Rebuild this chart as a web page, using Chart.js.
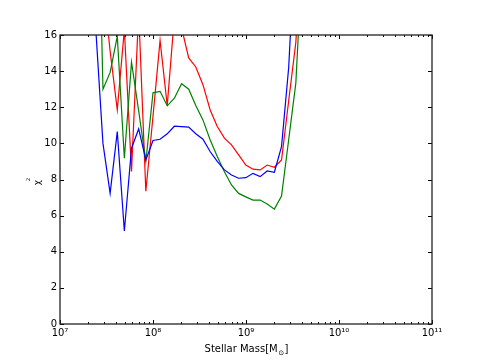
<!DOCTYPE html>
<html><head><meta charset="utf-8">
<script src="https://cdn.jsdelivr.net/npm/chart.js@4"></script>
<style>html,body{margin:0;padding:0;background:#fff}canvas{display:block}</style>
</head><body>
<canvas id="c" width="480" height="360"></canvas>
<script>
// log10 of stellar mass for each sample
const logMass = [7.232, 7.308, 7.385, 7.462, 7.539, 7.616, 7.692, 7.769, 7.846, 7.923,
                 8.000, 8.076, 8.153, 8.230, 8.307, 8.384, 8.460, 8.537, 8.614, 8.691,
                 8.768, 8.844, 8.921, 8.998, 9.075, 9.152, 9.228, 9.305, 9.382, 9.459,
                 9.536, 9.612];
const chi2Blue  = [null, 22, 16.3, 10.0, 7.23, 10.65, 5.15, 9.73, 10.8, 9.08,
                   10.16, 10.23, 10.53, 10.95, 10.93, 10.9, 10.53, 10.23, 9.55, 9.0,
                   8.53, 8.25, 8.07, 8.1, 8.34, 8.16, 8.47, 8.4, 9.82, 14.2,
                   22, null];
const chi2Green = [null, null, 30, 13.0, 13.93, 15.93, 9.18, 14.5, 11.8, 9.0,
                   12.8, 12.88, 12.08, 12.5, 13.3, 13.0, 12.1, 11.3, 10.2, 9.27,
                   8.43, 7.7, 7.23, 7.04, 6.86, 6.86, 6.64, 6.36, 7.08, 10.2,
                   13.35, 21];
const chi2Red   = [null, null, null, 19, 15.1, 11.86, 16.3, 8.45, 17.3, 7.35,
                   11.5, 15.7, 12.1, 17, 16.4, 14.73, 14.23, 13.25, 11.86, 10.93,
                   10.29, 9.92, 9.36, 8.8, 8.57, 8.53, 8.8, 8.68, 9.08, 12.36,
                   15.6, 22];
const xTickExps = [7, 8, 9, 10, 11];
const yTicks = [0, 2, 4, 6, 8, 10, 12, 14, 16];
const xLabelMain = 'Stellar Mass[M';
const xLabelSub = '\u2299';
const xLabelEnd = ']';
const yLabelMain = '\u03c7';
const yLabelSup = '2';

const SUP = {'0':'\u2070','1':'\u00b9','2':'\u00b2','3':'\u00b3','4':'\u2074','5':'\u2075','6':'\u2076','7':'\u2077','8':'\u2078','9':'\u2079'};
const supStr = n => String(n).split('').map(c => SUP[c]).join('');
const FONT = '"DejaVu Sans", sans-serif';

function series(vals) {
  return logMass.map((l, i) => ({x: Math.pow(10, l), y: vals[i]}));
}

const framePlugin = {
  id: 'frame',
  afterDraw(chart) {
    const {ctx, chartArea: a, scales: {x, y}} = chart;
    ctx.save();
    ctx.strokeStyle = '#000';
    ctx.lineWidth = 1;
    ctx.beginPath();
    const vtick = (val, len) => {
      const px = Math.round(x.getPixelForValue(val)) + 0.5;
      ctx.moveTo(px, a.bottom); ctx.lineTo(px, a.bottom - len);
      ctx.moveTo(px, a.top); ctx.lineTo(px, a.top + len);
    };
    xTickExps.forEach(e => vtick(Math.pow(10, e), 4));
    for (let i = 0; i < xTickExps.length - 1; i++) {
      for (let m = 2; m <= 9; m++) vtick(m * Math.pow(10, xTickExps[i]), 2);
    }
    yTicks.forEach(v => {
      const py = Math.round(y.getPixelForValue(v)) + 0.5;
      ctx.moveTo(a.left, py); ctx.lineTo(a.left + 4, py);
      ctx.moveTo(a.right, py); ctx.lineTo(a.right - 4, py);
    });
    ctx.stroke();
    ctx.strokeStyle = '#222';
    ctx.lineWidth = 1.3;
    ctx.strokeRect(a.left, a.top, a.right - a.left, a.bottom - a.top);

    // x axis label
    ctx.fillStyle = '#000';
    ctx.textBaseline = 'alphabetic';
    ctx.font = '10px ' + FONT;
    const w1 = ctx.measureText(xLabelMain).width;
    ctx.font = '7px ' + FONT;
    const w2 = ctx.measureText(xLabelSub).width;
    ctx.font = '10px ' + FONT;
    const w3 = ctx.measureText(xLabelEnd).width;
    const total = w1 + w2 + w3;
    let sx = (a.left + a.right) / 2 - total / 2;
    const by = 352;
    ctx.textAlign = 'left';
    ctx.fillText(xLabelMain, sx, by);
    ctx.font = '7px ' + FONT;
    ctx.fillText(xLabelSub, sx + w1 + 0.5, by + 3);
    ctx.font = '10px ' + FONT;
    ctx.fillText(xLabelEnd, sx + w1 + w2 + 1, by);

    // y axis label (rotated)
    ctx.translate(40, (a.top + a.bottom) / 2);
    ctx.rotate(-Math.PI / 2);
    ctx.font = '9px ' + FONT;
    ctx.textAlign = 'right';
    ctx.fillText(yLabelMain, -0.5, 0);
    ctx.font = '5px ' + FONT;
    ctx.textAlign = 'left';
    ctx.fillText(yLabelSup, -1.5, -10);
    ctx.restore();
  }
};

new Chart(document.getElementById('c'), {
  type: 'line',
  data: {
    datasets: [
      {data: series(chi2Blue), borderColor: '#0000ff'},
      {data: series(chi2Green), borderColor: '#008000'},
      {data: series(chi2Red), borderColor: '#ff0000'}
    ].map(d => Object.assign(d, {borderWidth: 1.2, pointRadius: 0, tension: 0, fill: false, spanGaps: false}))
  },
  options: {
    responsive: false,
    animation: false,
    events: [],
    layout: {padding: {left: 0, top: 35, right: 48, bottom: 0}},
    plugins: {legend: {display: false}, tooltip: {enabled: false}},
    scales: {
      x: {
        type: 'logarithmic',
        min: 1e7, max: 1e11,
        afterBuildTicks: s => { s.ticks = xTickExps.map(e => ({value: Math.pow(10, e)})); },
        afterFit: s => { s.height = 36; },
        grid: {display: false, drawTicks: false},
        border: {display: false},
        ticks: {
          autoSkip: false, maxRotation: 0, padding: 3, color: '#000',
          font: {family: FONT, size: 10},
          callback: v => '10' + supStr(Math.round(Math.log10(v)))
        }
      },
      y: {
        min: 0, max: 16,
        afterBuildTicks: s => { s.ticks = yTicks.map(v => ({value: v})); },
        afterFit: s => { s.width = 60; },
        grid: {display: false, drawTicks: false},
        border: {display: false},
        ticks: {padding: 3, color: '#000', font: {family: FONT, size: 10}}
      }
    }
  },
  plugins: [framePlugin]
});
</script>
</body></html>
